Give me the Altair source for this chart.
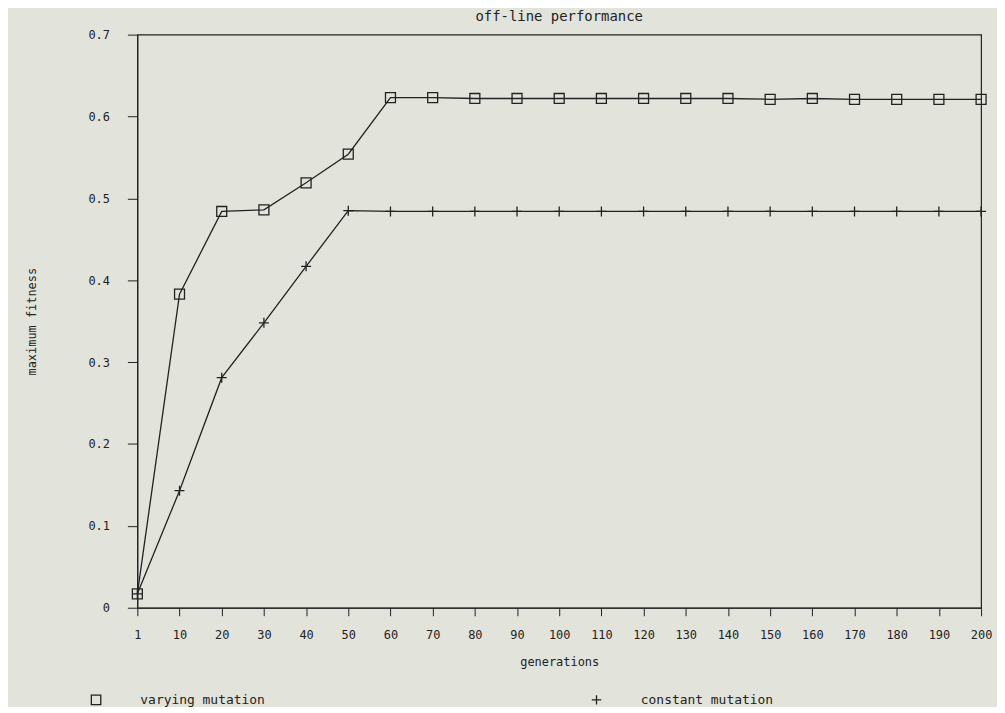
import altair as alt
import pandas as pd

generations = ["1", "10", "20", "30", "40", "50", "60", "70", "80", "90", "100",
               "110", "120", "130", "140", "150", "160", "170", "180", "190", "200"]
varying = [0.017, 0.383, 0.484, 0.486, 0.519, 0.554, 0.623, 0.623, 0.622, 0.622, 0.622,
           0.622, 0.622, 0.622, 0.622, 0.621, 0.622, 0.621, 0.621, 0.621, 0.621]
constant = [0.017, 0.143, 0.281, 0.348, 0.417, 0.485, 0.484, 0.484, 0.484, 0.484, 0.484,
            0.484, 0.484, 0.484, 0.484, 0.484, 0.484, 0.484, 0.484, 0.484, 0.484]
series_names = ["varying mutation", "constant mutation"]

rows = []
for g, v in zip(generations, varying):
    rows.append({"gen": g, "fitness": v, "series": series_names[0]})
for g, c in zip(generations, constant):
    rows.append({"gen": g, "fitness": c, "series": series_names[1]})
df = pd.DataFrame(rows)

FONT = "DejaVu Sans Mono"
INK = "#222222"
BG = "#e2e3da"

x = alt.X("gen:O", sort=generations, scale=alt.Scale(type="point", padding=0),
          axis=alt.Axis(title="generations", labelAngle=0, tickSize=8, labelPadding=14,
                        titlePadding=16, domainColor=INK, tickColor=INK))
y = alt.Y("fitness:Q", scale=alt.Scale(domain=[0, 0.7], nice=False),
          axis=alt.Axis(title="maximum fitness", values=[0, 0.1, 0.2, 0.3, 0.4, 0.5, 0.6, 0.7],
                        labelExpr="datum.value == 0 ? '0' : format(datum.value, '.1f')",
                        tickSize=10, labelPadding=18, titlePadding=50, grid=False,
                        domainColor=INK, tickColor=INK))

base = alt.Chart(df)

lines = base.mark_line(color=INK, strokeWidth=1.3).encode(x=x, y=y, detail="series:N")

points = base.mark_point(filled=False, size=100, strokeWidth=1.3, color=INK, opacity=1).encode(
    x=x, y=y,
    shape=alt.Shape("series:N", sort=series_names,
                    scale=alt.Scale(domain=series_names, range=["square", "M-1,0L1,0M0,-1L0,1"]),
                    legend=alt.Legend(title=None, orient="none", legendX=-48, legendY=662,
                                      direction="horizontal", columns=2, columnPadding=325,
                                      labelOffset=38, symbolStrokeColor=INK, symbolStrokeWidth=1.3,
                                      symbolSize=90, labelFont=FONT, labelFontSize=13,
                                      labelColor=INK))
)

chart = (lines + points).properties(
    width=848, height=576,
    title=alt.TitleParams("off-line performance", font=FONT, fontSize=14, fontWeight="normal",
                          color=INK, offset=5),
    autosize=alt.AutoSizeParams(type="none"),
    padding={"left": 130, "top": 25, "right": 16, "bottom": 98},
    background=BG,
).configure_view(stroke=INK, strokeWidth=1.2).configure_axis(
    labelFont=FONT, titleFont=FONT, labelFontSize=12, titleFontSize=12,
    titleFontWeight="normal", labelColor=INK, titleColor=INK,
)

chart.save("out.html", embed_options={"renderer": "svg", "actions": False})
